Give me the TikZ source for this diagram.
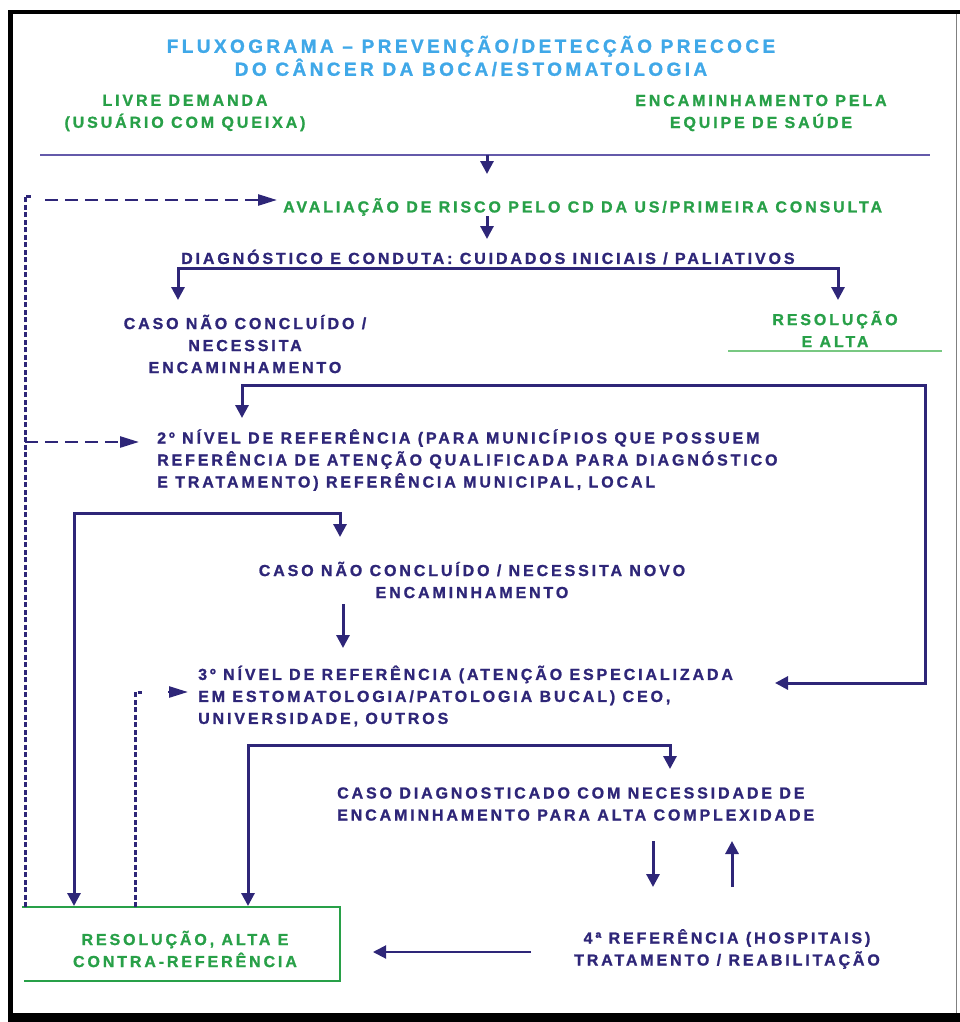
\documentclass[tikz,border=0pt]{standalone}
\usepackage{fontspec}
\setmainfont{Liberation Sans}
\newfontfamily\flowfont{Liberation Sans}[LetterSpace=18, BoldFont=Liberation Sans Bold, BoldFeatures={FakeBold=1.2}]
\usetikzlibrary{arrows.meta}

\definecolor{navy}{RGB}{46,38,120}
\definecolor{skyblue}{RGB}{64,168,232}
\definecolor{leafgreen}{RGB}{40,160,72}
\definecolor{palegreen}{RGB}{120,200,130}
\definecolor{rulepurple}{RGB}{100,90,170}

\tikzset{
	ttl/.style = {text = skyblue, align = center, inner sep = 0, font = \flowfont\bfseries\fontsize{19}{23}\selectfont},
	grn/.style = {text = leafgreen, align = center, inner sep = 0, font = \flowfont\bfseries\fontsize{16}{22}\selectfont},
	nav/.style = {text = navy, inner sep = 0, font = \flowfont\bfseries\fontsize{16}{22}\selectfont},
	flow/.style = {draw = navy, line width = 3pt, > = {Triangle[width = 13pt, length = 13pt]}},
	back/.style = {draw = navy, line width = 2.5pt, dash pattern = on 13pt off 7pt, > = {Triangle[width = 11pt, length = 19pt]}},
	backv/.style = {draw = navy, line width = 3pt, dash pattern = on 5pt off 2.5pt}
}

\begin{document}
\begin{tikzpicture}[x = 1pt, y = -1pt]

	\useasboundingbox (0, 0) rectangle (960, 1022);

	% Frame

	\fill [black] (8, 10) rectangle (960, 14);
	\fill [black] (8, 10) rectangle (13, 1022);
	\fill [black] (8, 1013) rectangle (960, 1022);
	\draw [gray, line width = 1pt] (956, 14) -- (956, 1013);

	% Title + entry points

	\node [ttl] (title) at (471, 56) {FLUXOGRAMA – PREVENÇÃO/DETECÇÃO PRECOCE\\DO CÂNCER DA BOCA/ESTOMATOLOGIA};
	\node [grn] (livre) at (185, 113) {LIVRE DEMANDA\\(USUÁRIO COM QUEIXA)};
	\node [grn] (equipe) at (761, 113) {ENCAMINHAMENTO PELA\\EQUIPE DE SAÚDE};
	\draw [rulepurple, line width = 1.2pt] (40, 155) coordinate (ruleL) -- (930, 155) coordinate (ruleR);

	% First consultation

	\node [grn, anchor = west] (aval) at (283, 207) {AVALIAÇÃO DE RISCO PELO CD DA US/PRIMEIRA CONSULTA};
	\node [nav, anchor = west] (diag) at (181, 257) {DIAGNÓSTICO E CONDUTA: CUIDADOS INICIAIS / PALIATIVOS};
	\coordinate (top) at (487, 155);
	\draw [flow, ->] (top) -- (487, 174);
	\draw [flow, ->] (487, 216) -- (487, 239);

	\node [nav, align = center] (caso1) at (245, 344) {CASO NÃO CONCLUÍDO /\\NECESSITA\\ENCAMINHAMENTO};
	\node [grn] (resol1) at (835, 329) {RESOLUÇÃO\\E ALTA};
	\draw [palegreen, line width = 1.2pt] (728, 351) -- (942, 351);
	\draw [flow, ->] (487, 268) -| (178, 300);
	\draw [flow, ->] (487, 268) -| (838, 300);

	% Second level

	\node [nav, align = left, anchor = west] (nivel2) at (157, 460) {2º NÍVEL DE REFERÊNCIA (PARA MUNICÍPIOS QUE POSSUEM\\REFERÊNCIA DE ATENÇÃO QUALIFICADA PARA DIAGNÓSTICO\\E TRATAMENTO) REFERÊNCIA MUNICIPAL, LOCAL};
	\node [nav, align = center] (caso2) at (472, 580) {CASO NÃO CONCLUÍDO / NECESSITA NOVO\\ENCAMINHAMENTO};

	% Third level

	\node [nav, align = left, anchor = west] (nivel3) at (198, 696) {3º NÍVEL DE REFERÊNCIA (ATENÇÃO ESPECIALIZADA\\EM ESTOMATOLOGIA/PATOLOGIA BUCAL) CEO,\\UNIVERSIDADE, OUTROS};
	\node [nav, align = left, anchor = west] (caso3) at (337, 804) {CASO DIAGNOSTICADO COM NECESSIDADE DE\\ENCAMINHAMENTO PARA ALTA COMPLEXIDADE};
	\draw [flow, ->] (343, 604) -- (343, 648);

	% Hospitals + discharge

	\node [nav, align = center] (hosp) at (727, 949) {4ª REFERÊNCIA (HOSPITAIS)\\TRATAMENTO / REABILITAÇÃO};
	\node [grn] (resol2) at (185, 949) {RESOLUÇÃO, ALTA E\\CONTRA-REFERÊNCIA};
	\draw [leafgreen, line width = 1.5pt] (22, 907) -- (340, 907) -- (340, 981) -- (24, 981);
	\draw [flow, line width = 2pt, ->] (531, 952) -- (373, 952);
	\draw [flow, ->] (653, 841) -- (653, 887);
	\draw [flow, ->] (732, 887) -- (732, 841);

	% Forwarding brackets

	\draw [flow, <->] (242, 418) -- (242, 385) -- (925, 385) -- (925, 683) -- (775, 683);
	\draw [flow, <->] (340, 537) -- (340, 513) -- (74, 513) -- (74, 906);
	\draw [flow, <->] (670, 769) -- (670, 745) -- (248, 745) -- (248, 906);

	% Counter-reference (dashed)

	\coordinate (cornerA) at (25, 196);
	\coordinate (tipA) at (277, 200);
	\coordinate (tipB) at (139, 442);
	\coordinate (cornerC) at (135, 692);

	\draw [backv] (25, 907) -- (cornerA) -- (31, 196);
	\draw [back, ->] (45, 200) -- (tipA);
	\draw [back, ->] (25, 442) -- (tipB);
	\draw [backv] (135, 907) -- (cornerC) -- (142, 692);
	\draw [back, ->, solid] (168, 692) -- (188, 692);

\end{tikzpicture}
\end{document}
